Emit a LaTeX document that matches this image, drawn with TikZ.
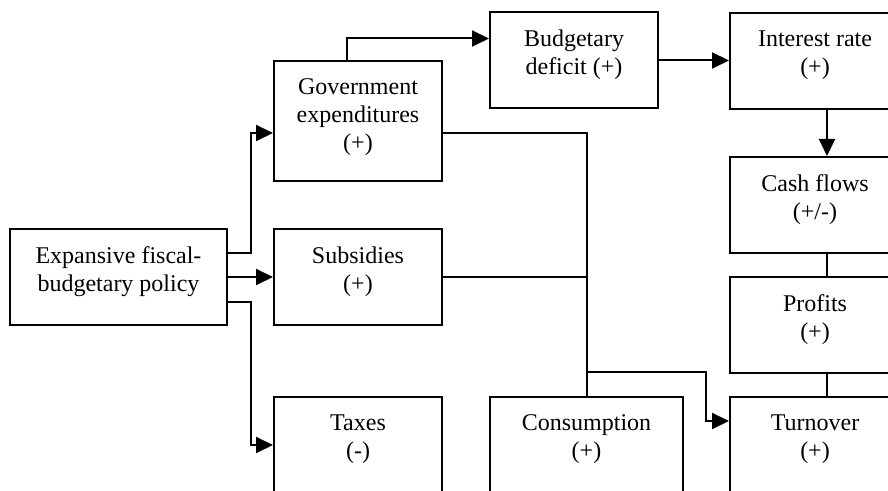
\documentclass[tikz,border=0pt]{standalone}
\usepackage{fontspec}
\setmainfont{Liberation Serif}
\usetikzlibrary{arrows.meta}
\tikzstyle{box}=[rectangle,draw=black,line width=1pt,inner sep=0pt,
  minimum width=84pt,minimum height=48pt]
\tikzstyle{txt}=[align=center,inner sep=0pt,anchor=north,yshift=-9pt,
  font=\fontsize{12}{14}\selectfont]
\tikzstyle{arr}=[line width=1pt,-{Triangle[length=8.5pt,width=8pt]}]
\tikzstyle{ln}=[line width=1pt]
\begin{document}
\begin{tikzpicture}[x=0.5pt, y=-0.5pt]
		\useasboundingbox (0, 0) rectangle (888, 491);
		\clip (0, 0) rectangle (888, 491);
		\node [style=box, minimum width=108.5pt] (exp) at (118.5, 277) {};
		\node [style=box, minimum height=60pt] (gov) at (358, 121) {};
		\node [style=box] (sub) at (358, 277) {};
		\node [style=box] (tax) at (358, 445) {};
		\node [style=box] (bud) at (574, 60.5) {};
		\node [style=box, minimum width=96.5pt] (cons) at (586.5, 445) {};
		\node [style=box, minimum width=85pt] (int) at (815, 61) {};
		\node [style=box, minimum width=85pt] (cash) at (815, 205) {};
		\node [style=box, minimum width=85pt] (prof) at (815, 325.5) {};
		\node [style=box, minimum width=85pt] (turn) at (815, 445) {};
		\node [style=txt] (exp-t) at (exp.north) {Expansive fiscal-\\budgetary policy};
		\node [style=txt] (gov-t) at (gov.north) {Government\\expenditures\\(+)};
		\node [style=txt] (sub-t) at (sub.north) {Subsidies\\(+)};
		\node [style=txt] (tax-t) at (tax.north) {Taxes\\(-)};
		\node [style=txt] (bud-t) at (bud.north) {Budgetary\\deficit (+)};
		\node [style=txt] (cons-t) at (cons.north) {Consumption\\(+)};
		\node [style=txt] (int-t) at (int.north) {Interest rate\\(+)};
		\node [style=txt] (cash-t) at (cash.north) {Cash flows\\(+/-)};
		\node [style=txt] (prof-t) at (prof.north) {Profits\\(+)};
		\node [style=txt] (turn-t) at (turn.north) {Turnover\\(+)};
		\draw [style=arr] ([yshift=12pt]exp.east) -- ++(11.5pt, 0) |- ([yshift=-6pt]gov.west);
		\draw [style=arr] (exp) -- (sub);
		\draw [style=arr] ([yshift=-12.5pt]exp.east) -- ++(11.5pt, 0) |- (tax.west);
		\draw [style=arr] ([xshift=-5.5pt]gov.north) |- ([yshift=11pt]bud.west);
		\draw [style=arr] (bud.east) -- (bud.east -| int.west);
		\draw [style=arr] ([xshift=6pt]int.south) -- ([xshift=6pt]cash.north);
		\draw [style=ln] ([xshift=6pt]cash.south) -- ([xshift=6pt]prof.north);
		\draw [style=ln] ([xshift=6pt]prof.south) -- ([xshift=6pt]turn.north);
		\draw [style=ln] ([yshift=-6pt]gov.east) -| (cons.north);
		\draw [style=ln] (sub.east) -- (sub.east -| cons.north);
		\draw [style=arr] ([yshift=12pt]cons.north) -| ([xshift=-11.5pt, yshift=12pt]turn.west) -- ([yshift=12pt]turn.west);
\end{tikzpicture}
\end{document}
